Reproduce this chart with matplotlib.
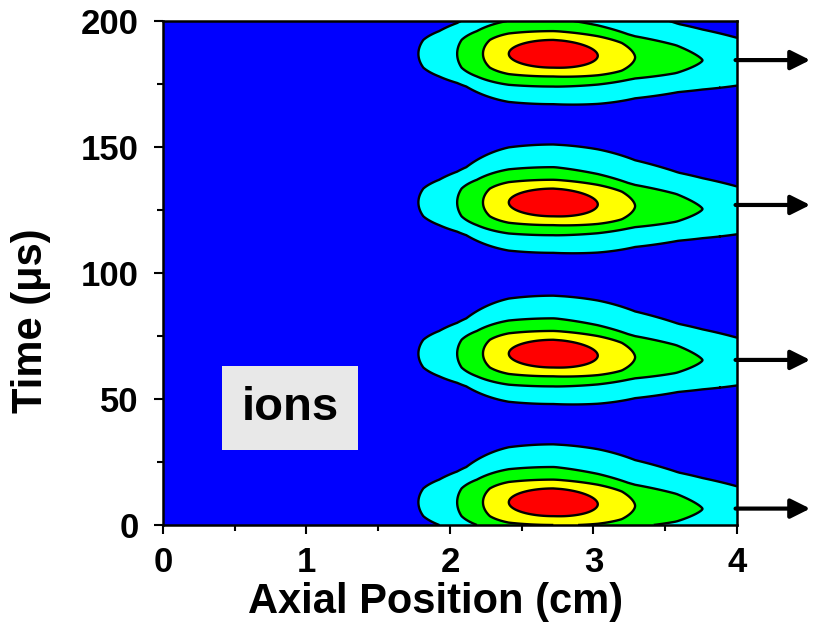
import numpy as np
import matplotlib
matplotlib.use("Agg")
import matplotlib.pyplot as plt
from matplotlib.ticker import MultipleLocator

plt.rcParams["font.family"] = ["Liberation Sans", "DejaVu Sans"]
plt.rcParams["font.weight"] = "bold"

# blob centres
blob_t = [9, 68, 128, 187]      # us
blob_x = 2.72                   # cm
# contour extents (red, yellow, green, cyan) measured from the centre
left_ext = [0.31, 0.49, 0.67, 0.94]
right_ext = [0.31, 0.57, 1.04, 1.28]
right_lvl = [1, 2, 3, 3.4]
up_ext = [5.5, 9, 14, 23]
down_ext = [5.5, 9, 13, 20]
tail_drop = 2.5                 # us per cm of tail
arrow_t = [6.5, 65.5, 127, 184.5]

levels = [0, 1, 2, 3, 4, 100]
fill_colors = ["#ff0000", "#ffff00", "#00ff00", "#00ffff", "#0000ff"]

x = np.linspace(0, 4, 801)
t = np.linspace(0, 200, 801)
X, T = np.meshgrid(x, t)

dx = X - blob_x
u_x = [-3.0] + [-e for e in left_ext[::-1]] + [0.0] + right_ext + [2.5]
u_v = [12.0] + [4, 3, 2, 1] + [0.0] + right_lvl + [6.0]
U = np.interp(dx, u_x, u_v)

R = np.full(X.shape, 1e3)
for t0 in blob_t:
    dt = T - t0 + tail_drop * np.clip(dx, 0, None)
    vu = np.interp(dt, [0] + up_ext + [80], [0, 1, 2, 3, 4, 12])
    vd = np.interp(-dt, [0] + down_ext + [80], [0, 1, 2, 3, 4, 12])
    V = np.where(dt >= 0, vu, vd)
    r2 = np.sqrt(U ** 2 + V ** 2)
    # rounder core, pointier tail further out (right side only)
    p_out = np.interp(r2, [0, 1, 2, 3], [2.0, 1.95, 1.75, 1.45])
    p = np.where(dx > 0, p_out, 2.0)
    rp = (U ** p + V ** p) ** (1 / p)
    w = np.clip((r2 - 3.0) / 0.8, 0, 1)
    R = np.minimum(R, (1 - w) * rp + w * r2)

fig = plt.figure(figsize=(8.14, 6.24), dpi=100)
ax = fig.add_axes([0.2002, 0.1587, 0.7052, 0.8076])
ax.contourf(X, T, R, levels=levels, colors=fill_colors)
ax.contour(X, T, R, levels=levels[1:5], colors="black", linewidths=1.7)

ax.set_xlim(0, 4)
ax.set_ylim(0, 200)
ax.xaxis.set_major_locator(MultipleLocator(1))
ax.xaxis.set_minor_locator(MultipleLocator(0.5))
ax.yaxis.set_major_locator(MultipleLocator(50))
ax.yaxis.set_minor_locator(MultipleLocator(25))
ax.tick_params(which="both", direction="out", width=1.5, top=False, right=False,
               labelsize=25)
ax.tick_params(which="major", length=6.5)
ax.tick_params(which="minor", length=4)
ax.tick_params(axis="x", pad=9)
ax.tick_params(axis="y", pad=11)
for s in ax.spines.values():
    s.set_linewidth(1.8)

ax.set_xlabel("Axial Position (cm)", fontsize=30, fontweight="bold")
ax.set_ylabel("Time (\u03bcs)", fontsize=30, fontweight="bold")
ax.xaxis.set_label_coords(0.4756, -0.113)
ax.yaxis.set_label_coords(-0.195, 0.405)

ax.text(0.885, 46.5, "ions", fontsize=34, fontweight="bold", ha="center", va="center",
        bbox=dict(boxstyle="square,pad=0.42", fc="#e8e8e8", ec="none"))

for ta in arrow_t:
    ax.annotate("", xy=(4.51, ta), xytext=(3.99, ta), xycoords="data",
                annotation_clip=False,
                arrowprops=dict(arrowstyle="-|>,head_length=0.9,head_width=0.45",
                                lw=3, color="black", shrinkA=0, shrinkB=0,
                                mutation_scale=13))

fig.savefig("out.png", dpi=100)
